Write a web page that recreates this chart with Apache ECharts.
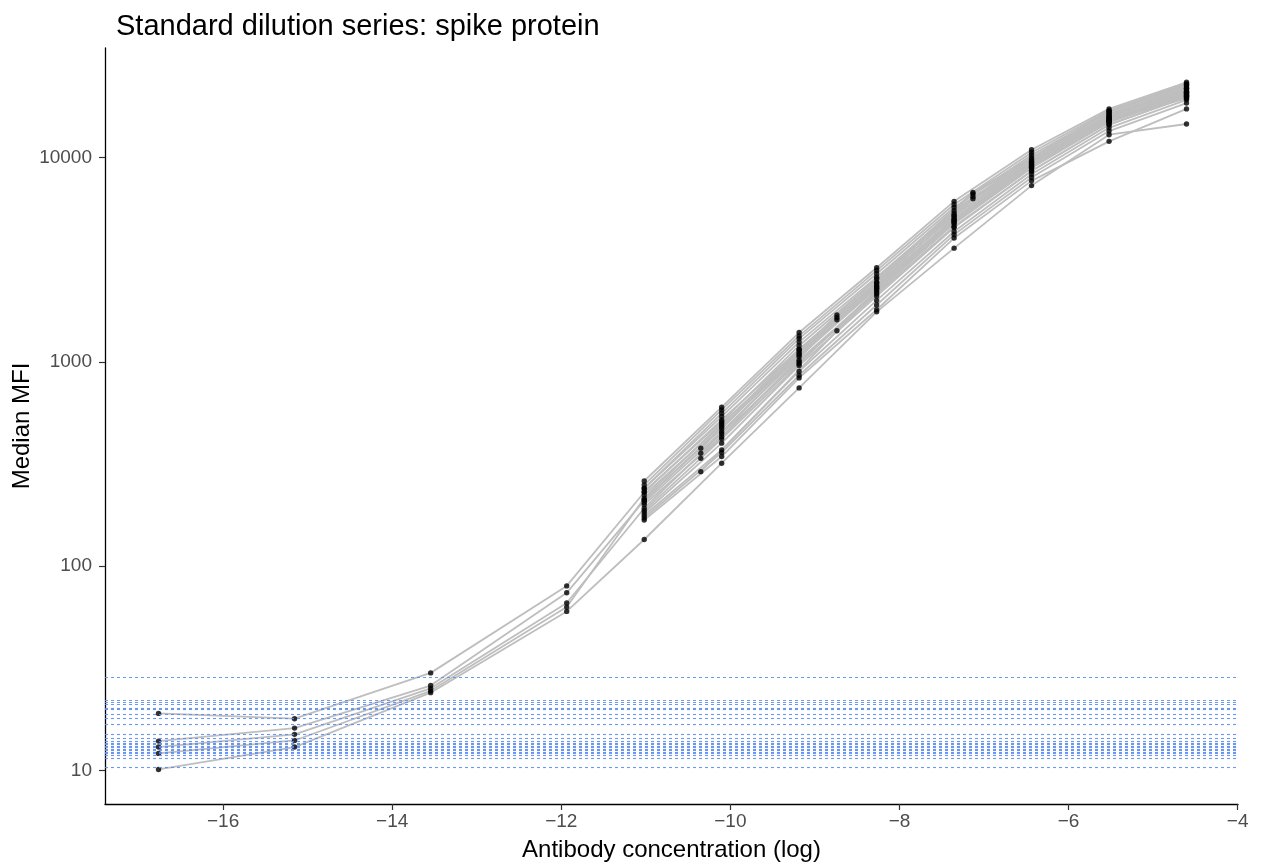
<!DOCTYPE html>
<html><head><meta charset="utf-8">
<script src="https://cdn.jsdelivr.net/npm/echarts@6/dist/echarts.min.js"></script>
<style>html,body{margin:0;padding:0;background:#fff}#c{width:1261px;height:867px}</style>
</head><body><div id="c"></div>
<script>
// Dilution positions (log concentration)
const xFull = [-4.605, -5.521, -6.438, -7.354, -8.270, -9.187, -10.103, -11.019, -11.936, -13.545, -15.155, -16.764];
const xShort = [-4.605, -5.521, -6.438, -7.354, -8.270, -9.187, -10.103, -11.019];
const xAlt = [-4.605, -5.521, -7.131, -8.740, -10.350];

// Curves measured over the full dilution range
const fullSeries = [
  [21800, 15800, 9500, 5200, 2450, 1150, 520, 230, 80, 30.0, 17.9, 19.0],
  [20500, 15000, 9000, 4900, 2300, 1080, 480, 210, 74, 26.0, 16.1, 13.9],
  [19800, 14500, 8600, 4600, 2150, 1000, 445, 192, 66, 25.2, 15.0, 13.0],
  [20900, 15200, 9200, 5000, 2350, 1100, 500, 215, 63, 24.5, 14.0, 12.1],
  [14620, 12960, 7300, 3606, 1758, 746, 319, 135, 60, 24.0, 13.0, 10.1]
];
// Curves stopping at the 8th dilution
const shortSeries = [
  [23390, 17330, 10940, 6110, 2890, 1392, 600, 261],
  [23000, 17000, 10600, 5900, 2800, 1340, 582, 250],
  [22600, 16700, 10300, 5700, 2700, 1300, 560, 241],
  [22200, 16400, 10000, 5500, 2600, 1250, 540, 240],
  [21900, 16100, 9800, 5350, 2550, 1200, 510, 232],
  [21500, 15800, 9600, 5200, 2450, 1150, 490, 223],
  [21100, 15500, 9400, 5050, 2380, 1120, 470, 211],
  [20700, 15200, 9200, 4900, 2300, 1060, 455, 205],
  [20300, 14900, 8900, 4750, 2200, 1020, 430, 200],
  [20000, 15000, 9000, 4800, 2250, 980, 420, 187],
  [19800, 14500, 8600, 4550, 2100, 960, 400, 182],
  [19200, 14000, 8300, 4350, 2000, 900, 371, 177],
  [18500, 13500, 8000, 4200, 1900, 860, 360, 172],
  [17330, 12020, 7700, 4041, 1800, 835, 344, 168]
];
// Curves on the alternative dilution scheme
const altSeries = [
  [22800, 16900, 6760, 1700, 378],
  [21000, 16200, 6650, 1650, 357],
  [20200, 15600, 6450, 1607, 337],
  [19500, 15300, 6300, 1420, 290]
];
// Blank / background MFI levels (dashed reference lines)
const blankLevels = [28.5, 22.0, 21.6, 21.1, 20.2, 19.9, 18.75, 17.9, 16.9, 14.96, 14.3, 13.9, 13.6, 13.4, 13.1, 12.9, 12.7, 12.5, 12.3, 12.07, 11.8, 11.5, 10.4];

const xTicks = [-16, -14, -12, -10, -8, -6, -4];
const yTicks = [10, 100, 1000, 10000];

const FONT = '"Liberation Sans", Arial, Helvetica, sans-serif';

const curves = [];
fullSeries.forEach(v => curves.push(v.map((y, i) => [xFull[i], y])));
shortSeries.forEach(v => curves.push(v.map((y, i) => [xShort[i], y])));
altSeries.forEach(v => curves.push(v.map((y, i) => [xAlt[i], y])));

const series = [];
series.push({
  type: 'line', data: [], silent: true, z: 1,
  markLine: {
    silent: true, symbol: ['none', 'none'], animation: false,
    label: { show: false },
    lineStyle: { color: '#5b8def', width: 1.1, type: [3, 3], opacity: 0.9 },
    data: blankLevels.map(v => ({ yAxis: v }))
  }
});
curves.forEach(c => series.push({
  type: 'line', data: c, showSymbol: false, symbol: 'none', silent: true, z: 2,
  lineStyle: { color: '#bebebe', width: 1.8 }
}));
series.push({
  type: 'scatter', data: [].concat(...curves), symbolSize: 5.4, z: 3, silent: true,
  itemStyle: { color: '#000' }
});

const chart = echarts.init(document.getElementById('c'), null, { renderer: 'canvas' });
chart.setOption({
  animation: false,
  backgroundColor: '#fff',
  title: {
    text: 'Standard dilution series: spike protein',
    left: 111, top: 7,
    textStyle: { fontFamily: FONT, fontSize: 29, fontWeight: 'normal', color: '#000' }
  },
  grid: { left: 105, right: 23, top: 48, bottom: 63, containLabel: false, outerBoundsMode: 'none' },
  xAxis: {
    type: 'value', min: -17.397, max: -3.996,
    name: 'Antibody concentration (log)', nameLocation: 'middle', nameGap: 34, nameMoveOverlap: false,
    nameTextStyle: { fontFamily: FONT, fontSize: 24, color: '#000' },
    axisLine: { lineStyle: { color: '#000', width: 1.3 } },
    axisTick: { length: 6, customValues: xTicks, lineStyle: { color: '#333', width: 1.2 } },
    axisLabel: {
      customValues: xTicks, margin: 8, color: '#4d4d4d', fontFamily: FONT, fontSize: 19,
      formatter: v => (v < 0 ? '\u2212' : '') + Math.abs(v)
    },
    splitLine: { show: false }
  },
  yAxis: {
    type: 'log', logBase: 10, min: 6.84, max: 34440,
    name: 'Median MFI', nameLocation: 'middle', nameGap: 71, nameRotate: 90, nameMoveOverlap: false,
    nameTextStyle: { fontFamily: FONT, fontSize: 24, color: '#000' },
    axisLine: { lineStyle: { color: '#000', width: 1.3 } },
    axisTick: { length: 6, customValues: yTicks, lineStyle: { color: '#333', width: 1.2 } },
    axisLabel: {
      customValues: yTicks, margin: 13, color: '#4d4d4d', fontFamily: FONT, fontSize: 19,
      formatter: v => String(Math.round(v))
    },
    splitLine: { show: false }
  },
  series: series
});
</script>
</body></html>
